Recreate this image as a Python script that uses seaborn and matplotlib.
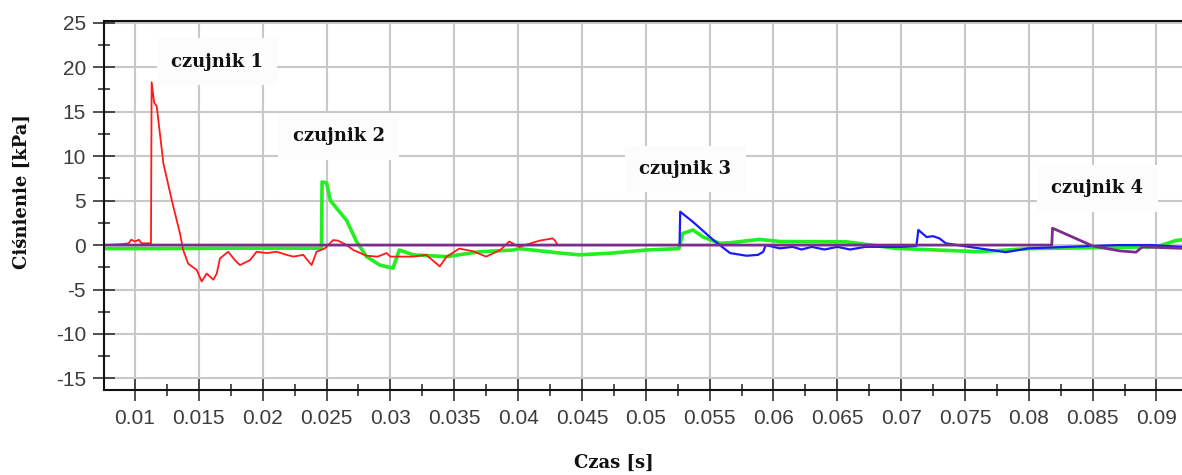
import matplotlib
matplotlib.use("Agg")
import matplotlib.pyplot as plt
import numpy as np
import pandas as pd
import seaborn as sns

# sensor 1 (red)
t1 = [0.0076, 0.0090, 0.0095, 0.0097, 0.0100, 0.0103, 0.0105, 0.0110, 0.01125, 0.01130,
      0.01150, 0.01170, 0.01222, 0.01287, 0.01352, 0.01378, 0.01417, 0.01483, 0.01522, 0.01561,
      0.01613, 0.01640, 0.01665, 0.0173, 0.01782, 0.01822, 0.0190, 0.01952, 0.0203, 0.0211,
      0.02187, 0.0224, 0.02317, 0.02383, 0.02422, 0.02487, 0.02552, 0.0259, 0.02657, 0.0271,
      0.02813, 0.0290, 0.0297, 0.0300, 0.0318, 0.0328, 0.03387, 0.0344, 0.0354, 0.0365,
      0.0375, 0.0386, 0.0393, 0.0401, 0.0410, 0.0417, 0.0427, 0.0429, 0.0431]
p1 = [0.0, 0.1, 0.2, 0.6, 0.4, 0.6, 0.2, 0.2, 0.2, 18.3,
      16.0, 15.6, 9.2, 5.1, 1.3, -0.6, -2.1, -2.8, -4.1, -3.2,
      -3.9, -3.2, -1.5, -0.75, -1.7, -2.25, -1.7, -0.75, -0.9, -0.75,
      -1.1, -1.3, -1.1, -2.25, -0.75, -0.37, 0.56, 0.5, 0.0, -0.56,
      -1.2, -1.3, -0.9, -1.3, -1.3, -1.1, -2.4, -1.3, -0.4, -0.7,
      -1.3, -0.56, 0.4, -0.2, 0.2, 0.5, 0.75, 0.5, 0.0]

# sensor 2 (green)
t2 = [0.0076, 0.0120, 0.0180, 0.0246, 0.02465, 0.0250, 0.0253, 0.02656, 0.02735, 0.02813,
      0.02917, 0.0302, 0.0307, 0.0318, 0.0344, 0.0370, 0.0396, 0.0401, 0.0433, 0.0448,
      0.0474, 0.0500, 0.0526, 0.0529, 0.0537, 0.0545, 0.0558, 0.0566, 0.0589, 0.0605,
      0.0657, 0.0696, 0.0761, 0.0800, 0.0850, 0.0900, 0.0915, 0.0920]
p2 = [-0.4, -0.4, -0.35, -0.35, 7.1, 7.0, 5.0, 2.8, 0.4, -1.3,
      -2.25, -2.6, -0.56, -1.1, -1.3, -0.75, -0.56, -0.4, -0.9, -1.1,
      -0.9, -0.56, -0.4, 1.3, 1.7, 0.9, 0.2, 0.26, 0.64, 0.4,
      0.37, -0.37, -0.75, -0.4, -0.3, -0.2, 0.5, 0.6]

# sensor 3 (blue)
t3 = [0.0525, 0.05265, 0.0527, 0.0537, 0.0553, 0.0566, 0.0579, 0.0588, 0.0592, 0.0594,
      0.0605, 0.0615, 0.0622, 0.0630, 0.0640, 0.0650, 0.0660, 0.0672, 0.0700, 0.0712,
      0.07135, 0.0720, 0.0725, 0.0730, 0.0735, 0.0761, 0.0782, 0.0800, 0.0830, 0.0870,
      0.0896, 0.0920]
p3 = [0.0, 0.0, 3.75, 2.6, 0.56, -0.9, -1.2, -1.1, -0.75, 0.0,
      -0.37, -0.2, -0.5, -0.2, -0.5, -0.2, -0.5, -0.2, -0.2, -0.1,
      1.7, 0.9, 1.0, 0.75, 0.2, -0.37, -0.8, -0.37, -0.2, 0.0,
      0.0, -0.2]

# sensor 4 (purple)
t4 = [0.0076, 0.0818, 0.08186, 0.0850, 0.0871, 0.0884, 0.0889, 0.0920]
p4 = [0.0, 0.0, 1.9, -0.1, -0.65, -0.8, -0.2, -0.37]

labels = ["czujnik 1", "czujnik 2", "czujnik 3", "czujnik 4"]
label_x = [0.01642, 0.02596, 0.05311, 0.08535]
label_y = [20.6, 12.26, 8.55, 6.41]

x_ticks = np.arange(0.01, 0.0901, 0.005)
y_ticks = np.arange(-15, 26, 5)

sns.set_theme(style="white")
plt.rcParams["font.family"] = ["Liberation Sans", "DejaVu Sans"]

fig = plt.figure(figsize=(11.82, 4.75), dpi=100)
ax = fig.add_axes([104 / 1182, 85 / 475, 1078 / 1182, 369 / 475])

series = [(t2, p2, "#22ee22", 2.6), (t1, p1, "#ff1a1a", 1.3),
          (t3, p3, "#1a1aff", 1.6), (t4, p4, "#7b2d8e", 2.0)]
for t, p, c, lw in series:
    df = pd.DataFrame({"czas": t, "cisnienie": p})
    sns.lineplot(data=df, x="czas", y="cisnienie", color=c, linewidth=lw,
                 estimator=None, sort=False, ax=ax)

ax.set_xlim(0.00757, 0.0920)
ax.set_ylim(-16.3, 25.2)
ax.set_xticks(x_ticks)
ax.set_xticklabels(["%g" % round(v, 3) for v in x_ticks])
ax.set_xticks(x_ticks[:-1] + 0.0025, minor=True)
ax.set_yticks(y_ticks)
ax.set_yticklabels([str(int(v)) for v in y_ticks])
ax.set_yticks(y_ticks[:-1] + 2.5, minor=True)

ax.grid(True, which="major", color="#c8c8c8", linewidth=1.5)
ax.set_axisbelow(True)
ax.tick_params(which="major", direction="inout", length=16, width=1.1, color="#222222",
               labelsize=15, labelcolor="#3c3c3c", pad=5)
ax.tick_params(which="minor", direction="inout", length=8.5, width=1.1, color="#222222")
ax.tick_params(axis="x", which="major", pad=6)
ax.tick_params(left=True, bottom=True, which="both")

for s in ["left", "bottom", "top"]:
    ax.spines[s].set_color("#111111")
    ax.spines[s].set_linewidth(1.5)
ax.spines["right"].set_visible(False)

for txt, x, y in zip(labels, label_x, label_y):
    ax.text(x, y, txt, ha="center", va="center", fontsize=13, fontweight="bold",
            family="DejaVu Serif", color="#111111", zorder=5,
            bbox=dict(boxstyle="square,pad=0.8", facecolor="#fcfcfc", edgecolor="none"))

ax.set_xlabel("Czas [s]", fontsize=13, fontweight="bold", family="DejaVu Serif",
              color="#111111", va="center")
ax.xaxis.set_label_coords(0.473, -0.198)
ax.set_ylabel("Ciśnienie [kPa]", fontsize=13, fontweight="bold", family="DejaVu Serif",
              color="#111111", va="center")
ax.yaxis.set_label_coords(-0.076, 0.537)

fig.savefig("out.png", dpi=100, facecolor="white")
